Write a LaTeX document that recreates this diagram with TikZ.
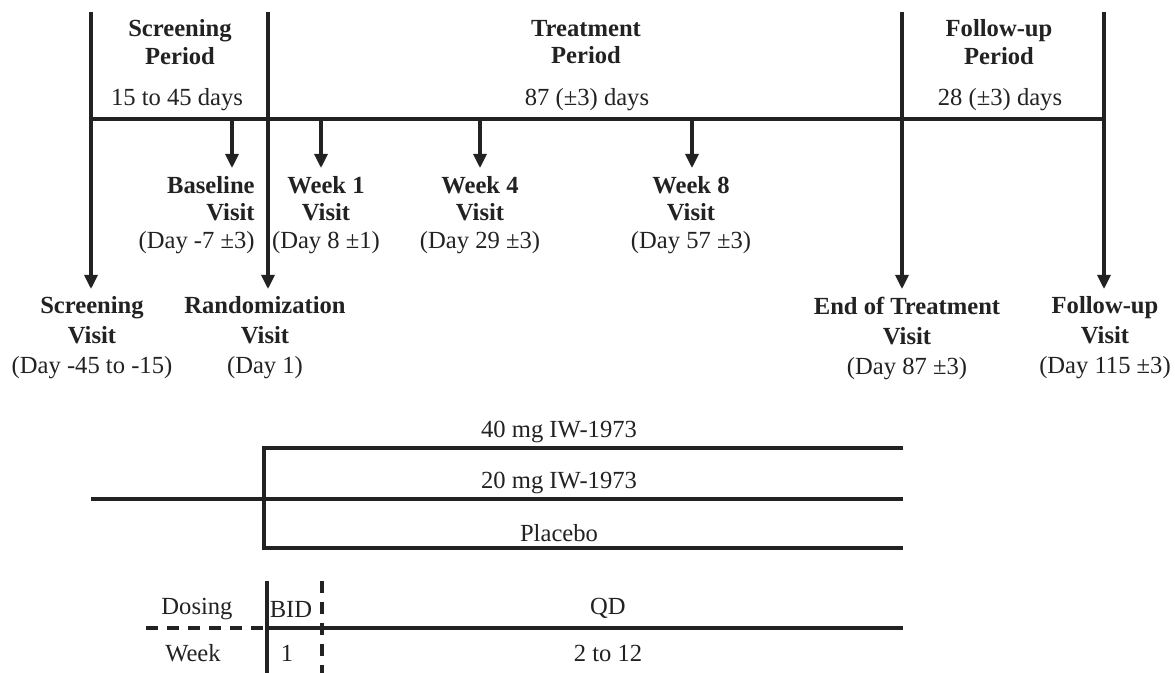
\documentclass[tikz,border=0pt]{standalone}
\usepackage{fontspec}
\setmainfont{Liberation Serif}
\usetikzlibrary{arrows.meta}
\definecolor{ink}{HTML}{222222}
\begin{document}
\begin{tikzpicture}[x=0.5pt,y=-0.5pt,
  ln/.style={line width=1.6pt, draw=ink},
  arr/.style={ln, -{Triangle[length=7pt,width=6.5pt]}},
  hd/.style={font=\fontsize{12.3}{13.8}\selectfont\bfseries, align=center, text=ink, inner sep=0pt},
  vl/.style={font=\fontsize{12.3}{15}\selectfont, align=center, text=ink, inner sep=0pt},
  vs/.style={font=\fontsize{12.3}{13.8}\selectfont, text=ink, inner sep=0pt},
  tx/.style={font=\fontsize{12.3}{14}\selectfont, text=ink, inner sep=0pt},
  dsh/.style={ln, dash pattern=on 6pt off 4.5pt}]
\useasboundingbox[fill=white] (0,0) rectangle (1175,673);

% ---- top headers
\node[hd] (scrP) at (180,42) {Screening\\Period};
\node[hd] (trtP) at (586,42) {Treatment\\Period};
\node[hd] (fupP) at (999,42) {Follow-up\\Period};
\node[tx] (scrD) at (177,100) {15 to 45 days};
\node[tx] (trtD) at (587,100) {87 (±3) days};
\node[tx] (fupD) at (1000,100) {28 (±3) days};

% ---- coordinates
\coordinate (sTop) at (91,12);   \coordinate (sTip) at (91,289);
\coordinate (rTop) at (268,12);  \coordinate (rTip) at (268,289);
\coordinate (eTop) at (902,12);  \coordinate (eTip) at (902,289);
\coordinate (fTop) at (1104,12); \coordinate (fTip) at (1104,289);
\coordinate (tlL) at (91,119);   \coordinate (tlR) at (1104,119);
\coordinate (bA) at (232,119);   \coordinate (bB) at (232,168);
\coordinate (w1A) at (321,119);  \coordinate (w1B) at (321,168);
\coordinate (w4A) at (480,119);  \coordinate (w4B) at (480,168);
\coordinate (w8A) at (692,119);  \coordinate (w8B) at (692,168);

\draw[ln] (tlL) -- (tlR);
\draw[arr] (sTop) -- (sTip);
\draw[arr] (rTop) -- (rTip);
\draw[arr] (eTop) -- (eTip);
\draw[arr] (fTop) -- (fTip);
\draw[arr] (bA) -- (bB);
\draw[arr] (w1A) -- (w1B);
\draw[arr] (w4A) -- (w4B);
\draw[arr] (w8A) -- (w8B);

% ---- small visit labels
\node[vs, align=right, anchor=east] (base) at (255,215) {\textbf{Baseline}\\\textbf{Visit}\\(Day -7 ±3)};
\node[vs, align=center] (wk1) at (326,215) {\textbf{Week 1}\\\textbf{Visit}\\(Day 8 ±1)};
\node[vs, align=center] (wk4) at (480,215) {\textbf{Week 4}\\\textbf{Visit}\\(Day 29 ±3)};
\node[vs, align=center] (wk8) at (691,215) {\textbf{Week 8}\\\textbf{Visit}\\(Day 57 ±3)};

% ---- main visit labels
\node[vl] (scrV) at (92,338) {\textbf{Screening}\\\textbf{Visit}\\(Day -45 to -15)};
\node[vl] (rndV) at (265,338) {\textbf{Randomization}\\\textbf{Visit}\\(Day 1)};
\node[vl] (eotV) at (907,338) {\textbf{End of Treatment}\\\textbf{Visit}\\(Day 87 ±3)};
\node[vl] (fuV) at (1105,338) {\textbf{Follow-up}\\\textbf{Visit}\\(Day 115 ±3)};

% ---- treatment arms
\coordinate (a40L) at (264,448); \coordinate (a40R) at (903,448);
\coordinate (a20L) at (91,499);  \coordinate (a20R) at (903,499);
\coordinate (aPL) at (264,548);  \coordinate (aPR) at (903,548);
\coordinate (aMid) at (264,499);
\draw[ln] (a40R) -- (a40L) -- (aPL) -- (aPR);
\draw[ln] (a20L) -- (a20R);
\node[tx] (t40) at (559,432) {40 mg IW-1973};
\node[tx] (t20) at (559,483) {20 mg IW-1973};
\node[tx] (tPl) at (559,533) {Placebo};

% ---- dosing table
\coordinate (dvT) at (267,581); \coordinate (dvB) at (267,673);
\coordinate (ddT) at (322,581); \coordinate (ddB) at (322,673);
\coordinate (dhL) at (146,628); \coordinate (dhM) at (267,628);
\coordinate (dhR) at (903,628);
\draw[ln] (dvT) -- (dvB);
\draw[dsh] (ddT) -- (ddB);
\draw[dsh] (dhL) -- (dhM);
\draw[ln] (dhM) -- (dhR);
\node[tx] (dos) at (197,609) {Dosing};
\node[tx] (wk) at (193,653) {Week};
\node[tx] (bid) at (291,609) {BID};
\node[tx] (one) at (287,653) {1};
\node[tx] (qd) at (608,608) {QD};
\node[tx] (two) at (608,653) {2 to 12};
\end{tikzpicture}
\end{document}
